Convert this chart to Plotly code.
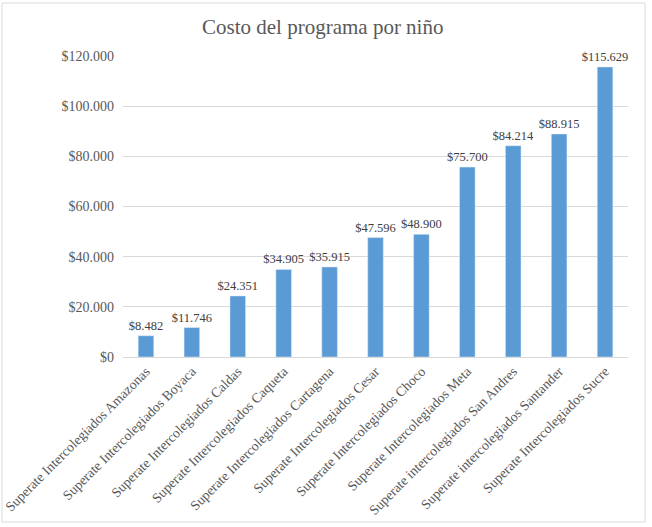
import plotly.graph_objects as go

categorias = [
    "Superate Intercolegiados Amazonas",
    "Superate Intercolegiados Boyaca",
    "Superate Intercolegiados Caldas",
    "Superate Intercolegiados Caqueta",
    "Superate Intercolegiados Cartagena",
    "Superate Intercolegiados Cesar",
    "Superate Intercolegiados Choco",
    "Superate Intercolegiados Meta",
    "Superate intercolegiados San Andres",
    "Superate intercolegiados Santander",
    "Superate Intercolegiados Sucre",
]
costo = [8482, 11746, 24351, 34905, 35915, 47596, 48900, 75700, 84214, 88915, 115629]
y_ticks = [0, 20000, 40000, 60000, 80000, 100000, 120000]
y_tick_text = ['$0', '$20.000', '$40.000', '$60.000', '$80.000', '$100.000', '$120.000']

fig = go.Figure()

fig.add_trace(go.Bar(
    x=categorias, y=costo,
    marker=dict(color='#5B9BD5'),
    texttemplate='$%{y:,d}', textposition='outside', constraintext='none',
    textfont=dict(family='Liberation Serif', size=12.5, color='#404040'),
    cliponaxis=False,
))

fig.update_layout(
    title=dict(text='Costo del programa por niño', x=0.495, xanchor='center', y=0.949, yanchor='middle',
               font=dict(family='Liberation Serif', size=21, color='#595959')),
    separators=',.',
    width=652, height=527,
    margin=dict(l=123, r=24, t=56, b=170),
    paper_bgcolor='white', plot_bgcolor='white',
    bargap=0.66,
    showlegend=False,
    font=dict(family='Liberation Serif', size=13, color='#595959'),
    yaxis=dict(
        range=[0, 120000], tickvals=y_ticks, ticktext=y_tick_text,
        showgrid=True, gridcolor='#D9D9D9', gridwidth=1, zeroline=False,
        ticks='', showline=False, ticklabelstandoff=8,
        tickfont=dict(size=14),
    ),
    xaxis=dict(
        tickangle=-45, showline=True, linecolor='#D9D9D9', ticks='',
        showgrid=False, automargin=False, tickfont=dict(size=13.8),
    ),
    # borde gris del grafico
    shapes=[dict(type='rect', xref='paper', yref='paper',
                 x0=-0.2396, x1=1.0337, y0=-0.548, y1=1.176,
                 line=dict(color='#D9D9D9', width=1))],
)

# quitar el margen del body para que la figura empiece en (0, 0)
fig.write_html("out.html", config={'displayModeBar': False},
               post_script="document.body.style.margin='0';")
